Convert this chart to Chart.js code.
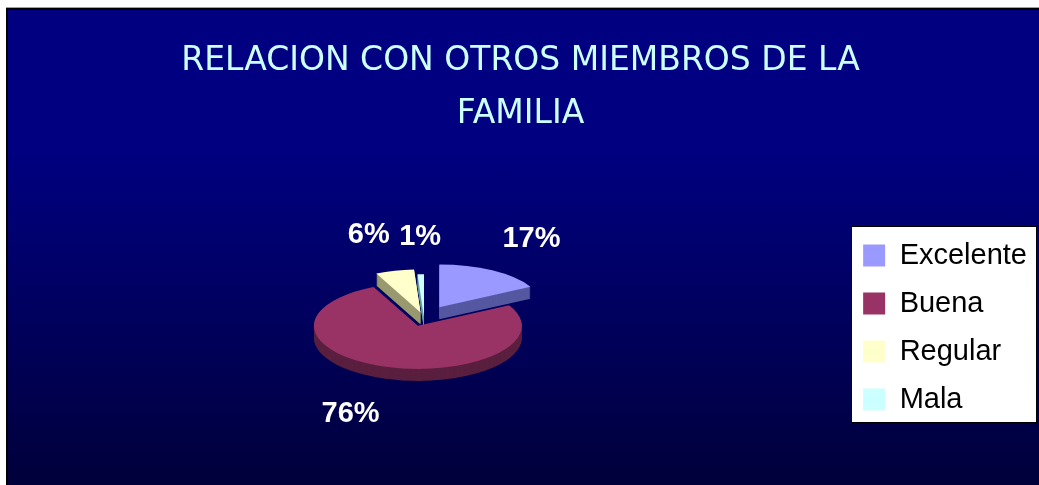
<!DOCTYPE html>
<html>
<head>
<meta charset="utf-8">
<title>Relacion con otros miembros de la familia</title>
<script src="https://cdn.jsdelivr.net/npm/chart.js@4.4.0/dist/chart.umd.min.js"></script>
<style>
  html, body { margin: 0; padding: 0; background: #fff; overflow: hidden; }
  #panel {
    position: absolute; left: 6px; top: 8px; width: 1040px; height: 480px;
    border-left: 2px solid #000; border-top: 2px solid #000;
    box-shadow: 0 -1px 0 #a0a0a0;
    background: linear-gradient(to bottom, #000080 0%, #000080 30%, #00003a 100%);
  }
  #wrap { position: absolute; left: 4px; top: 10px; width: 1035px; height: 475px; }
</style>
</head>
<body>
<div id="panel"></div>
<div id="wrap"><canvas id="chart"></canvas></div>
<script>
// data
const categories = ['Excelente', 'Buena', 'Regular', 'Mala'];
const percentages = [17, 76, 6, 1];
const titleLines = ['RELACION CON OTROS MIEMBROS DE LA', 'FAMILIA'];

// colours: top face and side face of each slice
const topColors = ['#9999FF', '#993366', '#FFFFCC', '#CCFFFF'];
const sideColors = ['#5558a0', '#5a1f3f', '#999970', '#6a9a9a'];

// 3D look
const tilt = 0.413;   // vertical squash of the pie
const depth = 12;     // thickness in px

function pctText(i) {
  let total = percentages.reduce((a, b) => a + b, 0);
  return Math.round(percentages[i] / total * 100) + '%';
}

// draws the pie squashed, with a side wall, then the % labels
const pie3d = {
  id: 'pie3d',
  beforeDatasetsDraw(chart) {
    const ctx = chart.ctx;
    const meta = chart.getDatasetMeta(0);
    const ds = chart.data.datasets[0];

    function paint(arc, i, dy, color) {
      let mid = (arc.startAngle + arc.endAngle) / 2;
      let ox = Math.cos(mid) * ds.explode[i];
      let oy = Math.sin(mid) * ds.explode[i];
      ctx.save();
      ctx.translate(arc.x, arc.y + dy);
      ctx.scale(1, tilt);
      ctx.translate(-arc.x + ox, -arc.y + oy);
      let keep = arc.options;
      if (color) arc.options = Object.assign({}, keep, {backgroundColor: color, borderColor: color});
      arc.draw(ctx);
      arc.options = keep;
      ctx.restore();
    }

    for (let d = depth; d > 0; d--) {
      meta.data.forEach((arc, i) => paint(arc, i, d, ds.sideColors[i]));
    }
    meta.data.forEach((arc, i) => paint(arc, i, 0));

    // percentage labels
    ctx.save();
    ctx.font = 'bold 29px "Liberation Sans", Arial, sans-serif';
    ctx.fillStyle = '#ffffff';
    ctx.textBaseline = 'middle';
    meta.data.forEach((arc, i) => {
      let mid = (arc.startAngle + arc.endAngle) / 2;
      let c = Math.cos(mid), s = Math.sin(mid);
      let r = arc.outerRadius + ds.explode[i];
      let x = arc.x + c * (r + 20);
      let y = arc.y + s * (r * tilt + 37);
      if (s > 0) y += depth;
      ctx.textAlign = c > 0.15 ? 'left' : (c < -0.15 ? 'right' : 'center');
      ctx.fillText(pctText(i), x, y);
    });
    ctx.restore();
    return false;
  }
};

// white framed box behind the legend
const legendFrame = {
  id: 'legendFrame',
  beforeDraw(chart) {
    const lg = chart.legend;
    if (!lg || !lg.columnSizes || !lg.columnSizes.length) return;
    const ctx = chart.ctx;
    const pad = lg.options.labels.padding;
    const col = lg.columnSizes[0];
    let x0 = Math.round(lg.left + pad - 12) + 0.5;
    let x1 = Math.round(lg.right) - 0.5;
    let y0 = Math.round(lg.bottom - col.height - 15) + 0.5;
    let y1 = Math.round(lg.bottom - pad + 8) + 0.5;
    ctx.save();
    ctx.fillStyle = '#ffffff';
    ctx.fillRect(x0, y0, x1 - x0, y1 - y0);
    ctx.strokeStyle = '#000000';
    ctx.lineWidth = 1;
    ctx.strokeRect(x0, y0, x1 - x0, y1 - y0);
    ctx.restore();
  }
};

new Chart(document.getElementById('chart'), {
  type: 'pie',
  data: {
    labels: categories,
    datasets: [{
      data: percentages,
      backgroundColor: topColors,
      sideColors: sideColors,
      explode: [30, 20, 14, 2],
      borderWidth: 0,
      clip: false
    }]
  },
  options: {
    responsive: true,
    maintainAspectRatio: false,
    animation: false,
    events: [],
    radius: 104,
    layout: { padding: { left: 0, right: 2, top: 0, bottom: 52 } },
    plugins: {
      title: {
        display: true,
        text: titleLines,
        color: '#CCFFFF',
        font: { family: '"Comic Sans MS", "DejaVu Sans", sans-serif', size: 33, weight: 'normal', lineHeight: 1.606 },
        padding: { top: 24.5, bottom: 62.5 }
      },
      legend: {
        position: 'right',
        align: 'end',
        labels: {
          boxWidth: 22,
          boxHeight: 22,
          padding: 19,
          color: '#000000',
          font: { family: '"Liberation Sans", Arial, sans-serif', size: 29 }
        }
      },
      tooltip: { enabled: false }
    }
  },
  plugins: [legendFrame, pie3d]
});
</script>
</body>
</html>
